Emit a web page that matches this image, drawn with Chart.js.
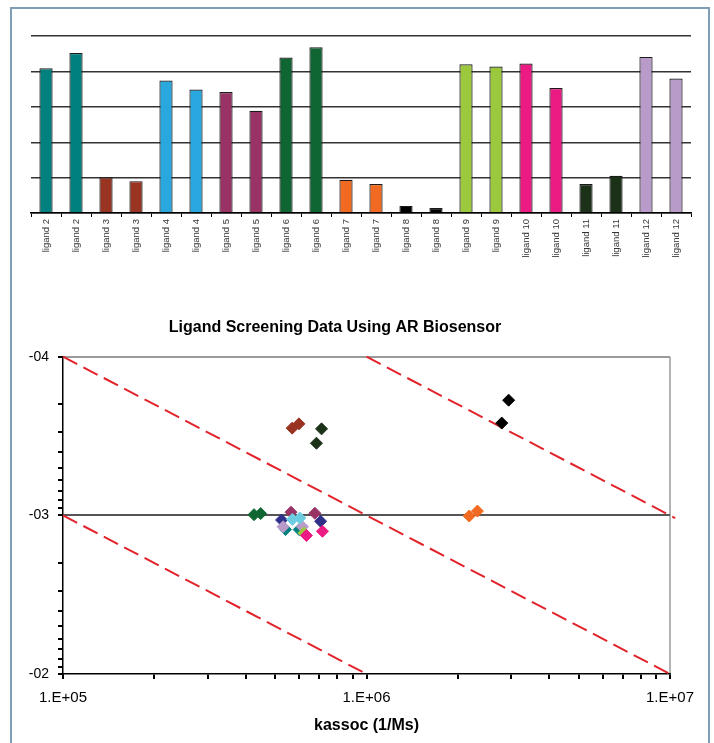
<!DOCTYPE html>
<html>
<head>
<meta charset="utf-8">
<script src="https://cdn.jsdelivr.net/npm/chart.js@4"></script>
<style>
	body { margin: 0; background: #fff; width: 714px; height: 743px; overflow: hidden; position: relative; }
	#frame { position: absolute; left: 10px; top: 7px; width: 696px; height: 780px; border: 2px solid #7f9db5; }
	#barChart { position: absolute; left: 0; top: 0; }
	#scatterChart { position: absolute; left: 0; top: 290px; }
</style>
</head>
<body>
<div id="frame"></div>
<canvas id="barChart" width="714" height="280"></canvas>
<canvas id="scatterChart" width="714" height="453"></canvas>
<script>
// bar chart data (relative response)
var barLabels = ['ligand 2', 'ligand 2', 'ligand 3', 'ligand 3', 'ligand 4', 'ligand 4',
	'ligand 5', 'ligand 5', 'ligand 6', 'ligand 6', 'ligand 7', 'ligand 7',
	'ligand 8', 'ligand 8', 'ligand 9', 'ligand 9', 'ligand 10', 'ligand 10',
	'ligand 11', 'ligand 11', 'ligand 12', 'ligand 12'];
var barValues = [4.09, 4.52, 1.01, 0.90, 3.74, 3.49, 3.42, 2.89, 4.39, 4.68, 0.94, 0.82,
	0.20, 0.14, 4.20, 4.14, 4.22, 3.53, 0.82, 1.05, 4.41, 3.80];

var ligandColors = {
	'ligand 1': '#2e3089',
	'ligand 2': '#00807f',
	'ligand 3': '#993422',
	'ligand 4': '#29a7df',
	'ligand 5': '#993366',
	'ligand 6': '#106633',
	'ligand 7': '#f26a21',
	'ligand 8': '#000000',
	'ligand 9': '#9bc83d',
	'ligand 10': '#ec1a83',
	'ligand 11': '#1b3219',
	'ligand 12': '#b89bc9'
};
// the scatter uses a paler cyan for ligand 4
var scatterColors = Object.assign({}, ligandColors, {'ligand 4': '#6ccde0'});

// scatter data: kassoc (1/Ms) and kdiss (1/s) for each ligand
var scatterNames = ['ligand 3', 'ligand 11', 'ligand 8', 'ligand 7', 'ligand 6', 'ligand 5',
	'ligand 1', 'ligand 2', 'ligand 12', 'ligand 4', 'ligand 9', 'ligand 10'];
var kassoc = [
	[5.69e5, 5.99e5],
	[7.11e5, 6.84e5],
	[2.94e6, 2.79e6],
	[2.18e6, 2.32e6],
	[4.26e5, 4.48e5],
	[5.64e5, 6.76e5],
	[5.25e5, 7.06e5],
	[5.41e5, 6.00e5],
	[5.31e5, 6.15e5],
	[5.70e5, 6.03e5],
	[6.22e5],
	[6.34e5, 7.16e5]
];
var kdiss = [
	[2.82e-4, 2.65e-4],
	[2.85e-4, 3.51e-4],
	[1.88e-4, 2.62e-4],
	[1.01e-3, 9.4e-4],
	[9.9e-4, 9.75e-4],
	[9.55e-4, 9.7e-4],
	[1.07e-3, 1.09e-3],
	[1.23e-3, 1.23e-3],
	[1.18e-3, 1.18e-3],
	[1.06e-3, 1.04e-3],
	[1.29e-3],
	[1.34e-3, 1.26e-3]
];

// dashed constant-KD guide lines, end points
var kdLineX = [[1e5, 1e7], [1e6, 1.04e7], [1e5, 1e6]];
var kdLineY = [[1e-4, 1e-2], [1e-4, 1.04e-3], [1e-3, 1e-2]];

// axis ticks
var xMajor = [1e5, 1e6, 1e7];
var xMajorLabels = ['1.E+05', '1.E+06', '1.E+07'];
var yMajor = [1e-4, 1e-3, 1e-2];
var yMajorLabels = ['-04', '-03', '-02'];

var FONT = 'Arial, "Liberation Sans", Helvetica, sans-serif';

function logTicks(majors) {
	var out = [];
	for (var i = 0; i < majors.length; i++) {
		out.push(majors[i]);
		if (i < majors.length - 1) {
			for (var m = 2; m <= 9; m++) out.push(m * majors[i]);
		}
	}
	return out;
}

function majorIndex(list, v) {
	for (var i = 0; i < list.length; i++) {
		if (Math.abs(v - list[i]) / list[i] < 1e-6) return i;
	}
	return -1;
}

//top bar chart
new Chart(document.getElementById('barChart'), {
	type: 'bar',
	data: {
		labels: barLabels,
		datasets: [{
			data: barValues,
			backgroundColor: barLabels.map(function (l) { return ligandColors[l]; }),
			borderColor: '#1a1a1a',
			borderWidth: 1.2,
			barPercentage: 0.44,
			categoryPercentage: 1
		}]
	},
	options: {
		responsive: false,
		animation: false,
		devicePixelRatio: 1,
		layout: { padding: { left: 31, right: 23, top: 36, bottom: 0 } },
		plugins: { legend: { display: false }, tooltip: { enabled: false } },
		scales: {
			x: {
				grid: { display: true, drawOnChartArea: false, color: '#000', tickLength: 4, offset: true },
				border: { color: '#000', width: 1.5 },
				ticks: {
					minRotation: 90, maxRotation: 90, autoSkip: false, padding: 2,
					color: '#333', font: { family: FONT, size: 9.5 }
				},
				afterFit: function (s) { s.height = 67; }
			},
			y: {
				min: 0, max: 5,
				ticks: { display: false, stepSize: 1 },
				grid: { color: '#333', lineWidth: 1.4, drawTicks: false },
				border: { display: false },
				afterFit: function (s) { s.width = 0; }
			}
		}
	}
});

//bottom scatter chart
var datasets = [];
for (var i = 0; i < kdLineX.length; i++) {
	datasets.push({
		type: 'line',
		data: kdLineX[i].map(function (x, j) { return {x: x, y: kdLineY[i][j]}; }),
		borderColor: '#e3232b',
		borderWidth: 2,
		borderDash: [16, 7],
		pointRadius: 0,
		fill: false,
		clip: false,
		order: 100
	});
}
for (var i = 0; i < scatterNames.length; i++) {
	var c = scatterColors[scatterNames[i]];
	datasets.push({
		label: scatterNames[i],
		data: kassoc[i].map(function (x, j) { return {x: x, y: kdiss[i][j]}; }),
		pointStyle: 'rectRot',
		pointRadius: 6,
		backgroundColor: c,
		borderColor: c,
		borderWidth: 1,
		order: -i
	});
}

new Chart(document.getElementById('scatterChart'), {
	type: 'scatter',
	data: { datasets: datasets },
	options: {
		responsive: false,
		animation: false,
		devicePixelRatio: 1,
		layout: { padding: { left: 0, right: 44, top: 0, bottom: 0 } },
		plugins: {
			legend: { display: false },
			tooltip: { enabled: false },
			title: {
				display: true,
				text: 'Ligand Screening Data Using AR Biosensor',
				color: '#000',
				font: { family: FONT, size: 16, weight: 'bold' },
				padding: { top: 28, bottom: 19.5 }
			}
		},
		scales: {
			x: {
				type: 'logarithmic',
				min: 1e5, max: 1e7,
				afterBuildTicks: function (s) {
					s.ticks = logTicks(xMajor).map(function (v) { return {value: v}; });
				},
				ticks: {
					autoSkip: false, maxRotation: 0, padding: 10,
					color: '#000', font: { family: FONT, size: 15 },
					callback: function (v) {
						var k = majorIndex(xMajor, v);
						return k < 0 ? '' : xMajorLabels[k];
					}
				},
				grid: {
					tickLength: 5,
					tickColor: '#000',
					color: function (ctx) {
						return ctx.tick && ctx.tick.value === 1e7 ? '#b4b4b4' : 'rgba(0,0,0,0)';
					},
					lineWidth: 2
				},
				border: { color: '#000', width: 1.5 },
				title: {
					display: true, text: 'kassoc (1/Ms)', color: '#000',
					font: { family: FONT, size: 16, weight: 'bold' },
					padding: { top: 0, bottom: 8 }
				},
				afterFit: function (s) { s.height = 69; }
			},
			y: {
				type: 'logarithmic',
				reverse: true,
				min: 1e-4, max: 1e-2,
				afterBuildTicks: function (s) {
					s.ticks = logTicks(yMajor).map(function (v) { return {value: v}; });
				},
				ticks: {
					autoSkip: false, padding: 9,
					color: '#000', font: { family: FONT, size: 14 },
					callback: function (v) {
						var k = majorIndex(yMajor, v);
						return k < 0 ? '' : yMajorLabels[k];
					}
				},
				grid: {
					tickLength: 5,
					tickColor: '#000',
					color: function (ctx) {
						if (!ctx.tick) return 'rgba(0,0,0,0)';
						var k = majorIndex(yMajor, ctx.tick.value);
						if (k === 0) return '#9a9a9a';
						if (k === 1) return '#555';
						return 'rgba(0,0,0,0)';
					},
					lineWidth: 2
				},
				border: { color: '#000', width: 1.5 },
				afterFit: function (s) { s.width = 63; }
			}
		}
	}
});
</script>
</body>
</html>
